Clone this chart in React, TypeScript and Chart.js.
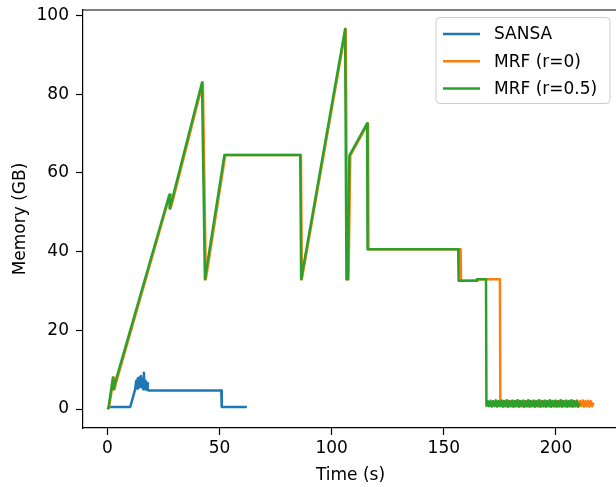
import { useEffect, useRef } from 'react';
import { Chart, registerables } from 'chart.js';

Chart.register(...registerables);

// ---- data ----
const seriesLabels = ['SANSA', 'MRF (r=0)', 'MRF (r=0.5)'];
const seriesColors = ['#1f77b4', '#ff7f0e', '#2ca02c'];
const xTitle = 'Time (s)';
const yTitle = 'Memory (GB)';
const xTicks = [0, 50, 100, 150, 200];
const yTicks = [0, 20, 40, 60, 80, 100];

const sansaTime = [0.5, 10.2, 12.4, 12.9, 13.3, 13.6, 14.0, 14.3, 14.6, 15.0, 15.3, 15.6, 16.0, 16.3, 16.6, 17.0, 17.3, 17.7, 18.0, 18.4, 50.8, 51.0, 62.2];
const sansaMem = [0.5, 0.5, 5.0, 7.2, 5.2, 7.8, 5.4, 8.0, 5.6, 8.4, 5.8, 7.6, 5.0, 9.2, 5.2, 7.2, 4.9, 6.6, 4.8, 4.7, 4.7, 0.5, 0.5];

const mrf0Time = [
  0, 0.7, 2.9, 3.2, 3.8, 28.0, 28.2, 29.0, 42.6, 43.9, 52.6, 86.3, 86.7, 106.3, 106.9, 107.5, 108.3, 116.2, 116.4,
  157.5, 157.7, 164.9, 165.1, 175.0, 175.2,
  175.9, 176.5, 177.1, 177.7, 178.3, 178.9, 179.5, 180.1, 180.7, 181.3, 181.9, 182.5, 183.1, 183.7, 184.3, 184.9,
  185.5, 186.1, 186.7, 187.3, 187.9, 188.5, 189.1, 189.7, 190.3, 190.9, 191.5, 192.1, 192.7, 193.3, 193.9, 194.5,
  195.1, 195.7, 196.3, 196.9, 197.5, 198.1, 198.7, 199.3, 199.9, 200.5, 201.1, 201.7, 202.3, 202.9, 203.5, 204.1,
  204.7, 205.3, 205.9, 206.5, 207.1, 207.7, 208.3, 208.9, 209.5, 210.1, 210.7, 211.3, 211.9, 212.5, 213.1, 213.7,
  214.3, 214.9, 215.5, 216.1, 216.8,
];
const mrf0Mem = [
  0, 0.3, 8.0, 5.0, 6.5, 54.6, 51.0, 52.6, 83.0, 33.0, 64.6, 64.6, 33.0, 96.6, 33.0, 33.0, 64.4, 72.6, 40.6,
  40.6, 32.6, 32.6, 33.0, 33.0, 0.9,
  2.1, 0.6, 2.0, 0.7, 2.2, 0.6, 2.0, 0.7, 2.1, 0.6, 2.0, 0.7, 2.2, 0.6, 2.0, 0.7,
  2.1, 0.6, 2.0, 0.7, 2.2, 0.6, 2.0, 0.7, 2.1, 0.6, 2.0, 0.7, 2.2, 0.6, 2.0, 0.7,
  2.1, 0.6, 2.0, 0.7, 2.2, 0.6, 2.0, 0.7, 2.1, 0.6, 2.0, 0.7, 2.2, 0.6, 2.0, 0.7,
  2.1, 0.6, 2.0, 0.7, 2.2, 0.6, 2.0, 0.7, 2.1, 0.6, 2.0, 0.7, 2.2, 0.6, 2.0, 0.7,
  2.1, 0.6, 2.0, 0.7, 1.6,
];

const mrf05Time = [
  0, 0.5, 2.5, 2.8, 3.4, 27.6, 27.8, 28.6, 42.2, 43.5, 52.2, 86.0, 86.4, 106.0, 106.6, 107.2, 107.9, 115.8, 116.0,
  156.4, 156.6, 164.5, 164.7, 168.8, 169.0,
  169.6, 170.2, 170.8, 171.4, 172.0, 172.6, 173.2, 173.8, 174.4, 175.0, 175.6, 176.2, 176.8, 177.4, 178.0, 178.6,
  179.2, 179.8, 180.4, 181.0, 181.6, 182.2, 182.8, 183.4, 184.0, 184.6, 185.2, 185.8, 186.4, 187.0, 187.6, 188.2,
  188.8, 189.4, 190.0, 190.6, 191.2, 191.8, 192.4, 193.0, 193.6, 194.2, 194.8, 195.4, 196.0, 196.6, 197.2, 197.8,
  198.4, 199.0, 199.6, 200.2, 200.8, 201.4, 202.0, 202.6, 203.2, 203.8, 204.4, 205.0, 205.6, 206.2, 206.8, 207.4,
  208.0, 208.6, 209.2, 209.8, 210.6,
];
const mrf05Mem = [
  0, 0.3, 8.0, 5.0, 6.5, 54.4, 51.0, 52.6, 83.0, 33.0, 64.6, 64.6, 33.0, 96.6, 33.0, 33.0, 64.4, 72.6, 40.6,
  40.6, 32.6, 32.6, 33.0, 33.0, 0.8,
  2.0, 0.7, 2.1, 0.6, 2.0, 0.7, 2.2, 0.6, 2.0, 0.7, 2.1, 0.6, 2.0, 0.7, 2.2, 0.6,
  2.0, 0.7, 2.1, 0.6, 2.0, 0.7, 2.2, 0.6, 2.0, 0.7, 2.1, 0.6, 2.0, 0.7, 2.2, 0.6,
  2.0, 0.7, 2.1, 0.6, 2.0, 0.7, 2.2, 0.6, 2.0, 0.7, 2.1, 0.6, 2.0, 0.7, 2.2, 0.6,
  2.0, 0.7, 2.1, 0.6, 2.0, 0.7, 2.2, 0.6, 2.0, 0.7, 2.1, 0.6, 2.0, 0.7, 2.2, 0.6,
  2.0, 0.7, 2.1, 0.6, 1.5,
];

const FONT = '"DejaVu Sans", sans-serif';
const FS = 17;

function zip(t: number[], m: number[]) {
  return t.map((x, i) => ({ x, y: m[i] }));
}

const framePlugin = {
  id: 'frame',
  afterDraw(chart: any) {
    const { ctx, chartArea: a } = chart;
    ctx.save();
    ctx.strokeStyle = '#000';
    ctx.lineWidth = 1.2;
    ctx.beginPath();
    ctx.moveTo(a.left, a.top);
    ctx.lineTo(a.right, a.top);
    ctx.lineTo(a.right, a.bottom);
    ctx.stroke();
    ctx.restore();
  },
};

const legendPlugin = {
  id: 'mplLegend',
  afterDraw(chart: any) {
    const { ctx, chartArea: a } = chart;
    const bx = a.left + 353;
    const by = a.top + 7.5;
    const bw = 174;
    const bh = 86;
    const r = 4;
    ctx.save();
    ctx.beginPath();
    ctx.moveTo(bx + r, by);
    ctx.lineTo(bx + bw - r, by);
    ctx.arcTo(bx + bw, by, bx + bw, by + r, r);
    ctx.lineTo(bx + bw, by + bh - r);
    ctx.arcTo(bx + bw, by + bh, bx + bw - r, by + bh, r);
    ctx.lineTo(bx + r, by + bh);
    ctx.arcTo(bx, by + bh, bx, by + bh - r, r);
    ctx.lineTo(bx, by + r);
    ctx.arcTo(bx, by, bx + r, by, r);
    ctx.closePath();
    ctx.fillStyle = 'rgba(255,255,255,0.8)';
    ctx.fill();
    ctx.strokeStyle = '#cccccc';
    ctx.lineWidth = 1;
    ctx.stroke();
    ctx.font = `${FS}px ${FONT}`;
    ctx.textBaseline = 'middle';
    ctx.textAlign = 'left';
    seriesLabels.forEach((lab, i) => {
      const yy = by + 16.5 + i * 27.2;
      ctx.strokeStyle = seriesColors[i];
      ctx.lineWidth = 2.5;
      ctx.beginPath();
      ctx.moveTo(bx + 7, yy);
      ctx.lineTo(bx + 44, yy);
      ctx.stroke();
      ctx.fillStyle = '#000';
      ctx.fillText(lab, bx + 58, yy + 1);
    });
    ctx.restore();
  },
};

export default function App() {
  const ref = useRef<HTMLCanvasElement | null>(null);

  useEffect(() => {
    if (!ref.current) return;
    const allX = [...sansaTime, ...mrf0Time, ...mrf05Time];
    const allY = [...sansaMem, ...mrf0Mem, ...mrf05Mem];
    const xMin = Math.min(...allX, 0);
    const xMax = Math.max(...allX);
    const yMin = Math.min(...allY);
    const yMax = Math.max(...allY);
    const xPad = (xMax - xMin) * 0.05;
    const yPad = (yMax - yMin) * 0.05;

    const datas = [zip(sansaTime, sansaMem), zip(mrf0Time, mrf0Mem), zip(mrf05Time, mrf05Mem)];
    const chart = new Chart(ref.current, {
      type: 'line',
      data: {
        datasets: datas.map((d, i) => ({
          label: seriesLabels[i],
          data: d,
          borderColor: seriesColors[i],
          backgroundColor: seriesColors[i],
          borderWidth: 2.5,
          pointRadius: 0,
          tension: 0,
          fill: false,
          borderJoinStyle: 'round' as const,
          order: 3 - i,
        })),
      },
      plugins: [framePlugin, legendPlugin],
      options: {
        animation: false,
        responsive: false,
        devicePixelRatio: 1,
        layout: { padding: { left: 0, top: 10, right: 22, bottom: 0 } },
        plugins: { legend: { display: false }, tooltip: { enabled: false } },
        scales: {
          x: {
            type: 'linear',
            min: xMin - xPad,
            max: xMax + xPad,
            afterBuildTicks: (s: any) => {
              s.ticks = xTicks.map((v) => ({ value: v }));
            },
            afterFit: (s: any) => {
              s.height = 59;
              s.paddingLeft = 0;
              s.paddingRight = 0;
            },
            grid: { drawOnChartArea: false, drawTicks: true, tickLength: 7, tickColor: '#000', tickWidth: 1.2 },
            border: { display: true, color: '#000', width: 1.2 },
            ticks: { color: '#000', font: { family: FONT, size: FS }, padding: 3, maxRotation: 0, autoSkip: false },
            title: { display: true, text: xTitle, color: '#000', font: { family: FONT, size: FS }, padding: { top: 0, bottom: 1 } },
          },
          y: {
            type: 'linear',
            min: yMin - yPad,
            max: yMax + yPad,
            afterBuildTicks: (s: any) => {
              s.ticks = yTicks.map((v) => ({ value: v }));
            },
            afterFit: (s: any) => {
              s.width = 83;
              s.paddingTop = 0;
              s.paddingBottom = 0;
            },
            grid: { drawOnChartArea: false, drawTicks: true, tickLength: 7, tickColor: '#000', tickWidth: 1.2 },
            border: { display: true, color: '#000', width: 1.2 },
            ticks: { color: '#000', font: { family: FONT, size: FS }, padding: 7, autoSkip: false },
            title: { display: true, text: yTitle, color: '#000', font: { family: FONT, size: FS }, padding: { top: 10, bottom: 0 } },
          },
        },
      },
    });
    return () => chart.destroy();
  }, []);

  return (
    <div style={{ position: 'fixed', left: 0, top: 0, width: 616, height: 487, overflow: 'hidden', background: '#fff' }}>
      <canvas ref={ref} width={640} height={487} style={{ display: 'block', width: 640, height: 487 }} />
    </div>
  );
}
